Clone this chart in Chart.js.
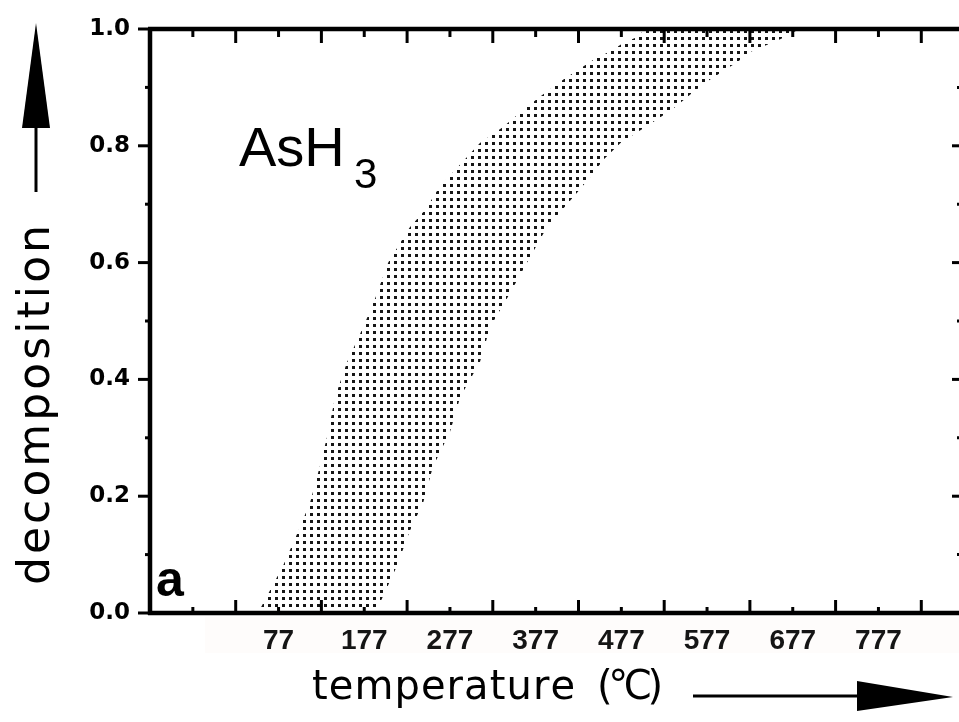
<!DOCTYPE html>
<html>
<head>
<meta charset="utf-8">
<script src="https://cdn.jsdelivr.net/npm/chart.js@4.4.1/dist/chart.umd.min.js"></script>
<style>
  html, body { margin: 0; padding: 0; background: #fff; }
  canvas { display: block; }
</style>
</head>
<body>
<canvas id="c" width="959" height="722"></canvas>
<script>
// ---- data (temperature in °C, decomposition fraction) ----
const tempLeft    = [53, 82, 100, 114, 125, 135, 143, 157, 176, 190, 205, 230, 248, 265, 312, 339, 362, 382, 409, 444, 467, 479, 495, 505];
const decompLeft  = [0, 0.08, 0.14, 0.19, 0.25, 0.31, 0.37, 0.43, 0.49, 0.54, 0.60, 0.66, 0.69, 0.73, 0.805, 0.832, 0.861, 0.884, 0.913, 0.947, 0.964, 0.976, 0.986, 1.0];
const tempRight   = [190, 215, 230, 246, 257, 277, 289, 312, 324, 344, 367, 390, 425, 441, 456, 476, 507, 537, 561, 581, 612, 628, 663, 685];
const decompRight = [0, 0.08, 0.14, 0.19, 0.25, 0.31, 0.37, 0.43, 0.49, 0.54, 0.60, 0.66, 0.719, 0.747, 0.776, 0.805, 0.834, 0.863, 0.892, 0.914, 0.943, 0.961, 0.983, 1.0];

// axis ticks
const xLabelTicks = [77, 177, 277, 377, 477, 577, 677, 777];          // labelled (short) ticks
const xShortTicks = [-23, 77, 177, 277, 377, 477, 577, 677, 777];     // short tick marks
const xLongTicks  = [27, 127, 227, 327, 427, 527, 627, 727, 827];      // long tick marks (every 100 K)
const yTicks      = [0, 0.1, 0.2, 0.3, 0.4, 0.5, 0.6, 0.7, 0.8, 0.9, 1.0];
const xMin = -73, xMax = 871;

// band polygon: left edge upward, right edge downward
const band = [];
tempLeft.forEach((t, i) => band.push({ x: t, y: decompLeft[i] }));
for (let i = tempRight.length - 1; i >= 0; i--) band.push({ x: tempRight[i], y: decompRight[i] });

// dotted screen pattern
const pc = document.createElement('canvas');
pc.width = 7; pc.height = 7;
const pctx = pc.getContext('2d');
pctx.fillStyle = '#151515';
pctx.fillRect(2, 2, 3, 3);
const canvas = document.getElementById('c');
const dotPattern = canvas.getContext('2d').createPattern(pc, 'repeat');

function spacedText(ctx, text, x, y, target) {
  const chars = [...text];
  let w = 0;
  chars.forEach(ch => w += ctx.measureText(ch).width);
  const sp = chars.length > 1 ? (target - w) / (chars.length - 1) : 0;
  let cx = x;
  chars.forEach(ch => { ctx.fillText(ch, cx, y); cx += ctx.measureText(ch).width + sp; });
}

const framePlugin = {
  id: 'frame',
  beforeDraw(chart) {
    const { ctx } = chart;
    ctx.save();
    ctx.fillStyle = '#fff';
    ctx.fillRect(0, 0, chart.width, chart.height);
    ctx.fillStyle = 'rgba(248,226,212,0.1)';
    ctx.fillRect(205, 617, 754, 36);
    ctx.restore();
  },
  afterDatasetsDraw(chart) {
    const { ctx, chartArea: a, scales: { x, y } } = chart;
    const line = (x1, y1, x2, y2) => { ctx.beginPath(); ctx.moveTo(x1, y1); ctx.lineTo(x2, y2); ctx.stroke(); };
    ctx.save();
    ctx.strokeStyle = '#000';
    ctx.lineCap = 'butt';
    ctx.lineWidth = 4.5;
    ctx.beginPath();
    ctx.moveTo(a.left, a.bottom + 2);
    ctx.lineTo(a.left, a.top);
    ctx.moveTo(a.left - 2, a.top);
    ctx.lineTo(a.right, a.top);
    ctx.moveTo(a.left - 2, a.bottom);
    ctx.lineTo(a.right, a.bottom);
    ctx.stroke();
    ctx.lineWidth = 3;
    xLongTicks.forEach(v => {
      const px = x.getPixelForValue(v);
      line(px, a.bottom, px, a.bottom - 13);
      line(px, a.top, px, a.top + 14);
    });
    xShortTicks.forEach(v => {
      const px = x.getPixelForValue(v);
      line(px, a.bottom, px, a.bottom - 6);
      line(px, a.top, px, a.top + 8);
    });
    yTicks.forEach((v, i) => {
      const py = y.getPixelForValue(v);
      const major = i % 2 === 0;
      line(a.left - (major ? 12 : 5), py, a.left, py);
      line(a.right + 3 - (major ? 10 : 5), py, a.right, py);
    });
    ctx.restore();
  },
  afterDraw(chart) {
    const { ctx } = chart;
    ctx.save();
    ctx.fillStyle = '#000';
    ctx.textBaseline = 'alphabetic';
    // compound label
    ctx.font = '56px "Liberation Sans"';
    ctx.fillText('AsH', 239, 166);
    ctx.font = '42px "Liberation Sans"';
    ctx.fillText('3', 354, 188);
    // panel letter
    ctx.font = 'bold 50px "Liberation Sans"';
    ctx.fillText('a', 156, 596);
    // x axis title
    ctx.font = '40px "DejaVu Sans"';
    spacedText(ctx, 'temperature', 312, 699, 263);
    spacedText(ctx, '(°C)', 597, 699, 66);
    // y axis title
    ctx.save();
    ctx.translate(49, 585);
    ctx.rotate(-Math.PI / 2);
    ctx.font = '44px "DejaVu Sans"';
    spacedText(ctx, 'decomposition', 0, 0, 360);
    ctx.restore();
    // arrows
    ctx.strokeStyle = '#000';
    ctx.lineWidth = 3;
    ctx.beginPath(); ctx.moveTo(36, 120); ctx.lineTo(36, 192); ctx.stroke();
    ctx.beginPath(); ctx.moveTo(36, 23); ctx.lineTo(50, 128); ctx.lineTo(22, 128); ctx.closePath(); ctx.fill();
    ctx.beginPath(); ctx.moveTo(693, 696); ctx.lineTo(870, 696); ctx.stroke();
    ctx.beginPath(); ctx.moveTo(857, 681); ctx.lineTo(953, 697); ctx.lineTo(857, 711); ctx.closePath(); ctx.fill();
    ctx.restore();
  }
};

new Chart(canvas, {
  type: 'scatter',
  data: {
    datasets: [{
      data: band,
      showLine: true,
      fill: 'shape',
      backgroundColor: dotPattern,
      borderWidth: 0,
      borderColor: 'rgba(0,0,0,0)',
      pointRadius: 0,
      tension: 0
    }]
  },
  options: {
    responsive: false,
    animation: false,
    layout: { padding: { top: 29, right: 0, left: 0, bottom: 0 } },
    plugins: { legend: { display: false }, tooltip: { enabled: false } },
    scales: {
      x: {
        type: 'linear',
        min: xMin,
        max: xMax,
        afterBuildTicks: s => { s.ticks = xLabelTicks.map(v => ({ value: v })); },
        afterFit: s => { s.height = 109; },
        grid: { display: false },
        border: { display: false },
        ticks: {
          autoSkip: false,
          maxRotation: 0,
          padding: 3,
          color: '#151515',
          font: { family: '"Liberation Sans"', weight: 'bold', size: 28 },
          callback: v => String(v)
        }
      },
      y: {
        type: 'linear',
        min: 0,
        max: 1,
        afterBuildTicks: s => { s.ticks = yTicks.map(v => ({ value: v })); },
        afterFit: s => { s.width = 150; },
        grid: { display: false },
        border: { display: false },
        ticks: {
          autoSkip: false,
          padding: 12,
          color: '#000',
          font: { family: '"DejaVu Sans"', weight: 'bold', size: 23 },
          callback: v => (Math.round(v * 10) % 2 === 0 ? v.toFixed(1) : '')
        }
      }
    }
  },
  plugins: [framePlugin]
});
</script>
</body>
</html>
